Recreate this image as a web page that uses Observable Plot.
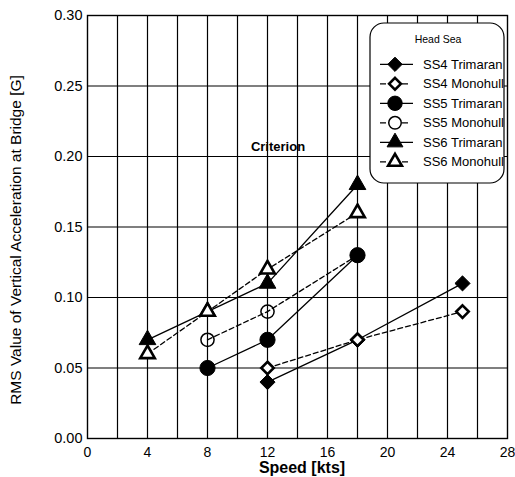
<!DOCTYPE html>
<html><head><meta charset="utf-8">
<script src="https://cdn.jsdelivr.net/npm/d3@7"></script>
<script src="https://cdn.jsdelivr.net/npm/@observablehq/plot@0.6"></script>
<style>body{margin:0;background:#fff;} svg{display:block;}</style>
</head><body><div id="chart"></div>
<script>
// ---- data ----
const seriesNames = ["SS4 Trimaran","SS4 Monohull","SS5 Trimaran","SS5 Monohull","SS6 Trimaran","SS6 Monohull"];
const ss4Speed = [12, 18, 25];
const ss4Trimaran = [0.04, 0.07, 0.11];
const ss4Monohull = [0.05, 0.07, 0.09];
const ss5Speed = [8, 12, 18];
const ss5Trimaran = [0.05, 0.07, 0.13];
const ss5Monohull = [0.07, 0.09, 0.13];
const ss6Speed = [4, 8, 12, 18];
const ss6Trimaran = [0.07, 0.09, 0.11, 0.18];
const ss6Monohull = [0.06, 0.09, 0.12, 0.16];
const xTickLabels = [0, 4, 8, 12, 16, 20, 24, 28];
const xGridValues = [2, 4, 6, 8, 10, 12, 14, 16, 18, 20, 22, 24, 26];
const yTickLabels = [0, 0.05, 0.10, 0.15, 0.20, 0.25, 0.30];
const criterionLabel = {speed: 12.7, value: 0.207, text: "Criterion"};
const legendTitle = "Head Sea";
const xLabel = "Speed [kts]";
const yLabel = "RMS Value of Vertical Acceleration at Bridge [G]";

// ---- build table ----
const seriesData = [
  [ss4Speed, ss4Trimaran], [ss4Speed, ss4Monohull],
  [ss5Speed, ss5Trimaran], [ss5Speed, ss5Monohull],
  [ss6Speed, ss6Trimaran], [ss6Speed, ss6Monohull]
];
const rows = [];
seriesNames.forEach((name, i) => {
  const [xs, ys] = seriesData[i];
  xs.forEach((s, j) => rows.push({series: name, speed: s, value: ys[j], mono: name.includes("Monohull")}));
});

const styles = {
  "SS4 Trimaran": {symbol: "diamond2", r: 6.8, fill: "#000", stroke: "#000", sw: 1},
  "SS4 Monohull": {symbol: "diamond2", r: 5.6, fill: "#fff", stroke: "#000", sw: 2.6},
  "SS5 Trimaran": {symbol: "circle", r: 7.6, fill: "#000", stroke: "#000", sw: 1},
  "SS5 Monohull": {symbol: "circle", r: 6.6, fill: "none", stroke: "#000", sw: 1.5},
  "SS6 Trimaran": {symbol: "triangle", r: 6.2, fill: "#000", stroke: "#000", sw: 1},
  "SS6 Monohull": {symbol: "triangle", r: 5.4, fill: "#fff", stroke: "#000", sw: 2.6}
};

const font = "Arial, 'Liberation Sans', sans-serif";

const dotMarks = seriesNames.map(name => {
  const st = styles[name];
  return Plot.dot(rows.filter(d => d.series === name), {
    x: "speed", y: "value", symbol: () => st.symbol, r: st.r,
    fill: st.fill, stroke: st.stroke, strokeWidth: st.sw
  });
});

const chart = Plot.plot({
  width: 515, height: 477,
  marginLeft: 87, marginRight: 8, marginTop: 15, marginBottom: 39,
  x: {domain: [0, 28]},
  y: {domain: [0, 0.30]},
  symbol: {type: "identity"},
  style: {fontFamily: font, fontSize: "14px", color: "#000", background: "#fff"},
  marks: [
    Plot.gridX(xGridValues, {stroke: "#000", strokeOpacity: 1, strokeWidth: 1.2}),
    Plot.gridY(yTickLabels, {stroke: "#000", strokeOpacity: 1, strokeWidth: 1.2}),
    Plot.frame({stroke: "#000", strokeWidth: 1.4}),
    Plot.axisX(xTickLabels, {tickSize: 0, tickPadding: 9, fontSize: 14, label: null}),
    Plot.axisY(yTickLabels, {tickSize: 0, tickPadding: 5, fontSize: 14.5, tickFormat: d3.format(".2f"), label: null}),
    Plot.line(rows.filter(d => !d.mono), {x: "speed", y: "value", z: "series", stroke: "#000", strokeWidth: 1.3}),
    Plot.line(rows.filter(d => d.mono), {x: "speed", y: "value", z: "series", stroke: "#000", strokeWidth: 1.3, strokeDasharray: "5,3"}),
    ...dotMarks,
    Plot.text([criterionLabel], {x: "speed", y: "value", text: "text", fontSize: 13, fontWeight: "bold", fill: "#000"})
  ]
});
document.getElementById("chart").appendChild(chart);

// ---- axis titles & legend ----
const svg = d3.select(chart);
svg.append("text")
  .attr("transform", "translate(21,240) rotate(-90)")
  .attr("text-anchor", "middle")
  .attr("font-family", font).attr("font-size", 15.5).attr("fill", "#000")
  .text(yLabel);
svg.append("text")
  .attr("x", 302).attr("y", 473)
  .attr("text-anchor", "middle")
  .attr("font-family", font).attr("font-size", 16).attr("font-weight", "bold").attr("fill", "#000")
  .text(xLabel);

const lg = svg.append("g");
lg.append("rect").attr("x", 370).attr("y", 23).attr("width", 134).attr("height", 160)
  .attr("rx", 14).attr("ry", 14).attr("fill", "#fff").attr("stroke", "#000").attr("stroke-width", 1.2);
lg.append("text").attr("x", 438).attr("y", 43).attr("text-anchor", "middle")
  .attr("font-family", font).attr("font-size", 10.5).attr("fill", "#000").text(legendTitle);
const symTypes = {diamond2: d3.symbolDiamond2, circle: d3.symbolCircle, triangle: d3.symbolTriangle};
seriesNames.forEach((name, i) => {
  const st = styles[name];
  const cy = 64.3 + i * 19.5;
  const ln = lg.append("line").attr("x1", 380).attr("x2", 413).attr("y1", cy).attr("y2", cy)
    .attr("stroke", "#000").attr("stroke-width", 1.3);
  if (name.includes("Monohull")) ln.attr("stroke-dasharray", "6,5");
  lg.append("path")
    .attr("d", d3.symbol().type(symTypes[st.symbol]).size(Math.PI * st.r * st.r * 0.9)())
    .attr("transform", `translate(395,${cy})`)
    .attr("fill", st.fill === "none" ? "#fff" : st.fill).attr("stroke", st.stroke).attr("stroke-width", st.sw);
  lg.append("text").attr("x", 423).attr("y", cy).attr("dy", "0.35em")
    .attr("text-anchor", "start")
    .attr("font-family", font).attr("font-size", 13).attr("fill", "#000").text(name);
});
</script>
</body></html>
